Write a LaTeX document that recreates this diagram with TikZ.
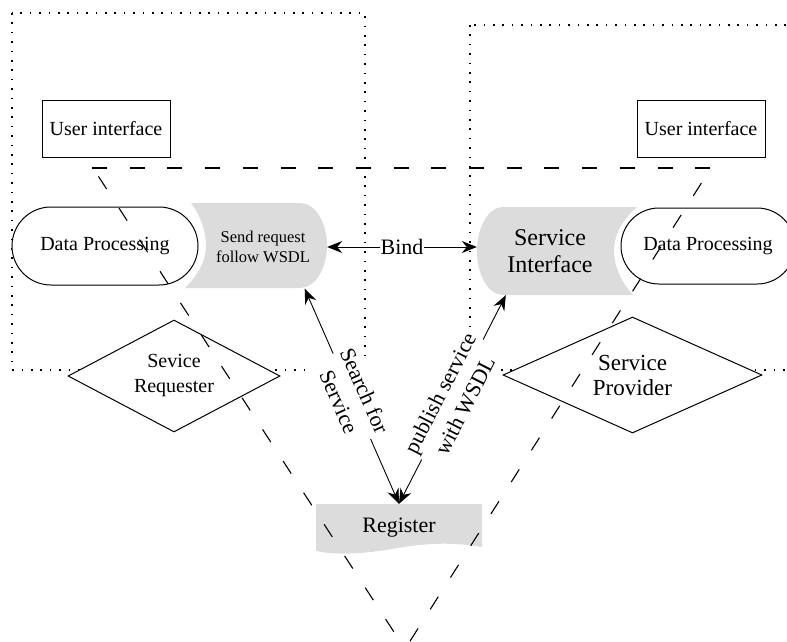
\documentclass[tikz,border=0pt]{standalone}
\usepackage{fontspec}
\setmainfont{Liberation Serif}
\usetikzlibrary{arrows.meta,shapes.geometric}
\definecolor{panelgrey}{RGB}{220,220,220}
\begin{document}
\begin{tikzpicture}[x=1pt,y=-1pt,
  font=\fontsize{20pt}{25pt}\selectfont,
  zone/.style={line width=1.6pt, dash pattern=on 1.6pt off 7.8pt},
  guide/.style={line width=1.1pt, dash pattern=on 15pt off 22.7pt},
  uibox/.style={draw, line width=1pt, minimum width=128pt, minimum height=57pt, inner sep=0pt},
  proc/.style={draw, fill=white, line width=1pt, inner sep=0pt},
  role/.style={draw, fill=white, diamond, shape aspect=2, inner sep=0pt, line width=1pt, align=center},
  panel/.style={inner sep=0pt, align=center},
  link/.style={line width=0.9pt, {Stealth[length=15pt,width=12pt,inset=5pt]}-{Stealth[length=15pt,width=12pt,inset=5pt]}},
  tag/.style={fill=white, align=center, inner xsep=1pt, inner ysep=5pt, font=\fontsize{22pt}{28pt}\selectfont}
]
\path[use as bounding box] (0,0) rectangle (787,642);
\clip (0,0) rectangle (787,642);

% dotted zones of the two parties
\draw[zone] (12,13) rectangle (365,370);
\draw[zone] (470,25) rectangle (800,370);

% user interfaces
\node[uibox] (uil) at (106,128.5) {User interface};
\node[uibox] (uir) at (701,128.5) {User interface};

% grey interface panels
\fill[panelgrey] (191,203) -- (300,203)
  .. controls (314.9,203) and (327,222) .. (327,245.5)
  .. controls (327,269) and (314.9,288) .. (300,288)
  -- (185,288)
  .. controls (199,274) and (206,260) .. (206,246)
  .. controls (206,230) and (200,215) .. (191,203) -- cycle;
\node[panel, minimum width=128pt, minimum height=83pt,
      font=\fontsize{16.5pt}{20pt}\selectfont] (sendreq) at (263,247) {Send request\\follow WSDL};

\fill[panelgrey] (503,207) -- (637,207)
  .. controls (622,220) and (614,235) .. (614,251)
  .. controls (614,267) and (622,283) .. (633,295)
  -- (503,295)
  .. controls (488.6,295) and (477,275.3) .. (477,251)
  .. controls (477,226.7) and (488.6,207) .. (503,207) -- cycle;
\node[panel, minimum width=146pt, minimum height=88pt,
      font=\fontsize{24pt}{27pt}\selectfont] (servint) at (550,251) {Service\\Interface};

% data processing units
\node[proc, rounded corners=39pt, minimum width=186pt, minimum height=78pt] (dpl) at (105,246) {Data Processing};
\node[proc, rounded corners=38pt, minimum width=174pt, minimum height=76pt] (dpr) at (708,246) {Data Processing};

% roles
\node[role, minimum width=212pt, minimum height=112pt] (req) at (174,376) {Sevice\\Requester};
\node[role, minimum width=259pt, minimum height=116pt,
      font=\fontsize{23pt}{25pt}\selectfont] (prov) at (632.5,375) {Service\\Provider};

% registry
\fill[panelgrey] (316,504) -- (482,504) -- (482,547)
  .. controls (455,542) and (425,543) .. (398,548)
  .. controls (370,553) and (340,556) .. (316,551) -- cycle;
\node[panel, minimum width=166pt, minimum height=47pt,
      font=\fontsize{22pt}{26pt}\selectfont] (reg) at (399,527.5) {Register};

% dashed triangle
\coordinate (gl) at (92,168);
\coordinate (gr) at (713,168);
\coordinate (gb) at (405,649);
\draw[guide, dash phase=0pt] (gl) -- (gr);
\draw[guide, dash phase=27.7pt] (93,168) -- (gb);
\draw[guide, dash phase=19.7pt] (711,168) -- (gb);

% interactions
\draw[link] (sendreq.east) -- (sendreq.east -| servint.west)
  node[midway, fill=white, inner sep=1pt, font=\fontsize{22pt}{26pt}\selectfont] {Bind};
\draw[link] (reg.north) -- (sendreq.-45)
  node[tag, midway, sloped] {Search for\\Service};
\draw[link] (reg.north) -- (servint.-135)
  node[tag, midway, sloped] {publish service\\with WSDL};
\end{tikzpicture}
\end{document}
